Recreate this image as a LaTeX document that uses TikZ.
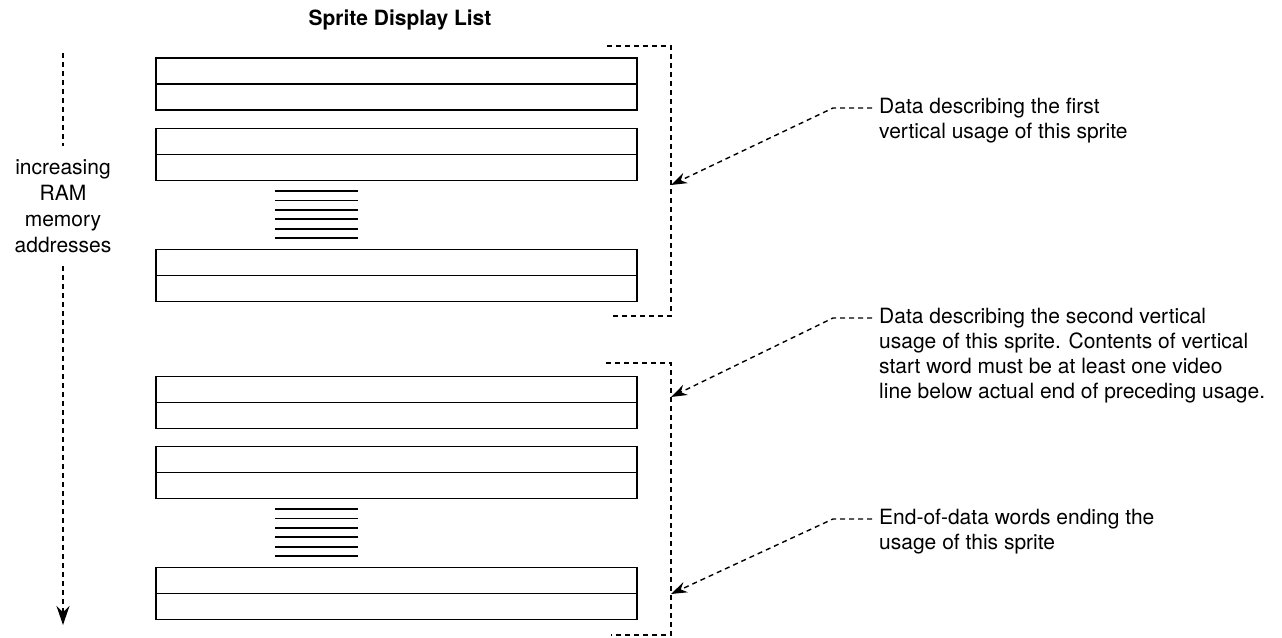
\documentclass[tikz,border=0pt]{standalone}
\usepackage{fontspec}
\setmainfont{TeX Gyre Heros}
\usetikzlibrary{arrows.meta}

\tikzset{
  wordpair/.style={draw, line width=1.4pt, minimum width=481pt, minimum height=52pt, inner sep=0pt},
  bracket/.style={line width=1.4pt, dash pattern=on 5pt off 4pt},
  callout/.style={bracket, -{Stealth[length=16pt, width=11pt]}},
  note/.style={align=left, inner sep=0pt, font=\fontsize{21}{25}\selectfont},
}

\begin{document}
\begin{tikzpicture}[x=1pt, y=-1pt]
  \useasboundingbox (0,0) rectangle (1282,637);
  \node[font=\bfseries\fontsize{21}{25}\selectfont] (title) at (400,20) {Sprite Display List};

  % word pairs of the two usages
  \foreach \n/\y in {1/84, 2/154.5, 3/275.5, 4/402.5, 5/472.5, 6/593.5} {
    \node[wordpair] (w\n) at (396.5,\y) {};
    \draw[line width=1.4pt] (w\n.west) -- (w\n.east);
  }
  % words left out
  \foreach \y in {191, 509}
    \foreach \i in {0,...,5}
      \draw[line width=1.8pt] (275,{\y+9.4*\i}) -- (358,{\y+9.4*\i});

  % brackets
  \draw[bracket] (607,46) -- (671,46) -- (671,316) -- (611,316);
  \draw[bracket] (606,363) -- (671,363) -- (671,635) -- (611,635);

  \coordinate (a1) at (671,185);
  \coordinate (a2) at (671,397);
  \coordinate (a3) at (671,594);
  \coordinate (k1) at (833,108);
  \coordinate (k2) at (833,318);
  \coordinate (k3) at (833,519);

  \node[note, anchor=north west] (t1) at ([shift={(46,-10)}]k1)
    {Data describing the first\\vertical usage of this sprite};
  \node[note, anchor=north west] (t2) at ([shift={(46,-10)}]k2)
    {Data describing the second vertical\\usage of this sprite. Contents of vertical\\start word must be at least one video\\line below actual end of preceding usage.};
  \node[note, anchor=north west] (t3) at ([shift={(46,-10)}]k3)
    {End-of-data words ending the\\usage of this sprite};

  \foreach \n in {1,2,3}
    \draw[callout, shorten <=7pt] (k\n -| t\n.west) -- (k\n) -- (a\n);

  % memory direction
  \coordinate (top) at (63,53);
  \coordinate (bot) at (63,625);
  \node[note, align=center, inner ysep=13pt, font=\fontsize{21}{26}\selectfont] (addr) at (63,206)
    {increasing\\RAM\\memory\\addresses};
  \draw[bracket] (top) -- (addr.north);
  \draw[bracket, -{Stealth[length=19pt, width=13pt]}] (addr.south) -- (bot);
\end{tikzpicture}
\end{document}
